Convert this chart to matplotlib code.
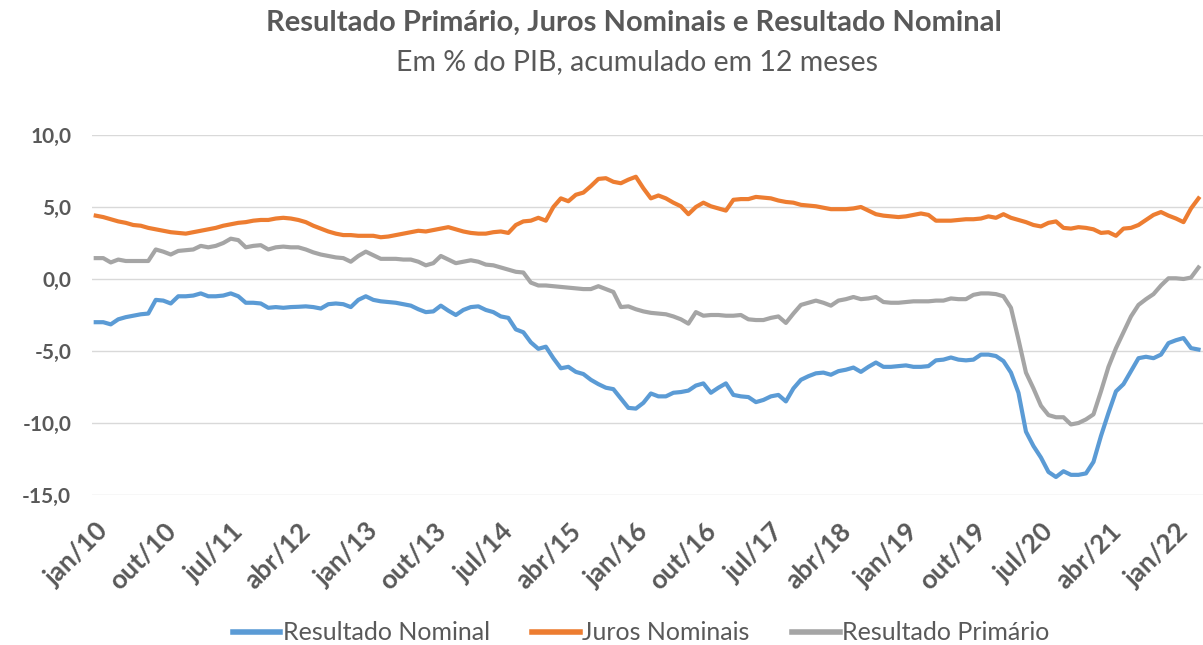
import numpy as np
import matplotlib
matplotlib.use("Agg")
import matplotlib.pyplot as plt

plt.rcParams['font.family'] = ['Lato', 'DejaVu Sans']

# meses: jan/10 ate abr/22 (148 pontos)
meses_pt = ['jan', 'fev', 'mar', 'abr', 'mai', 'jun', 'jul', 'ago', 'set', 'out', 'nov', 'dez']

# Resultado Nominal (% do PIB, acumulado 12 meses)
nominal = [
    -3.0, -3.0, -3.15, -2.8, -2.65, -2.55, -2.45, -2.4, -1.45, -1.5,
    -1.7, -1.2, -1.2, -1.15, -1.0, -1.2, -1.2, -1.15, -1.0, -1.2,
    -1.65, -1.65, -1.7, -2.0, -1.95, -2.0, -1.95, -1.93, -1.9, -1.95,
    -2.05, -1.75, -1.7, -1.75, -1.95, -1.45, -1.2, -1.45, -1.55, -1.6,
    -1.65, -1.75, -1.85, -2.1, -2.3, -2.25, -1.85, -2.2, -2.5, -2.15,
    -1.95, -1.9, -2.15, -2.3, -2.6, -2.7, -3.5, -3.7, -4.4, -4.85,
    -4.7, -5.5, -6.2, -6.1, -6.45, -6.6, -7.0, -7.3, -7.55, -7.65,
    -8.3, -8.95, -9.0, -8.6, -7.95, -8.15, -8.15, -7.9, -7.85, -7.75,
    -7.4, -7.25, -7.9, -7.55, -7.25, -8.05, -8.15, -8.2, -8.55, -8.4,
    -8.15, -8.05, -8.5, -7.6, -7.0, -6.75, -6.55, -6.5, -6.65, -6.4,
    -6.3, -6.15, -6.45, -6.1, -5.8, -6.1, -6.1, -6.05, -6.0, -6.1,
    -6.1, -6.05, -5.65, -5.6, -5.45, -5.6, -5.65, -5.6, -5.25, -5.25,
    -5.35, -5.7, -6.5, -7.9, -10.6, -11.6, -12.4, -13.4, -13.75, -13.35,
    -13.6, -13.6, -13.5, -12.7, -10.9, -9.3, -7.8, -7.3, -6.4, -5.5,
    -5.4, -5.5, -5.25, -4.45, -4.25, -4.1, -4.8, -4.9,
]

# Juros Nominais
juros = [
    4.4, 4.3, 4.15, 4.0, 3.9, 3.75, 3.7, 3.55, 3.45, 3.35,
    3.25, 3.2, 3.15, 3.25, 3.35, 3.45, 3.55, 3.7, 3.8, 3.9,
    3.95, 4.05, 4.1, 4.1, 4.2, 4.25, 4.2, 4.1, 3.95, 3.7,
    3.5, 3.3, 3.15, 3.05, 3.05, 3.0, 3.0, 3.0, 2.9, 2.95,
    3.05, 3.15, 3.25, 3.35, 3.3, 3.4, 3.5, 3.6, 3.45, 3.3,
    3.2, 3.15, 3.15, 3.25, 3.3, 3.2, 3.75, 4.0, 4.05, 4.25,
    4.05, 5.0, 5.6, 5.4, 5.85, 6.0, 6.45, 6.95, 7.0, 6.75,
    6.65, 6.9, 7.1, 6.3, 5.6, 5.8, 5.6, 5.3, 5.05, 4.5,
    5.0, 5.3, 5.05, 4.9, 4.75, 5.5, 5.55, 5.55, 5.7, 5.65,
    5.6, 5.45, 5.35, 5.3, 5.15, 5.1, 5.05, 4.95, 4.85, 4.85,
    4.85, 4.9, 5.0, 4.75, 4.5, 4.4, 4.35, 4.3, 4.35, 4.45,
    4.55, 4.45, 4.05, 4.05, 4.05, 4.1, 4.15, 4.15, 4.2, 4.35,
    4.25, 4.5, 4.25, 4.1, 3.95, 3.75, 3.65, 3.9, 4.0, 3.55,
    3.5, 3.6, 3.55, 3.45, 3.2, 3.25, 3.0, 3.5, 3.55, 3.75,
    4.1, 4.45, 4.65, 4.4, 4.2, 3.95, 4.9, 5.6,
]

# Resultado Primario
primario = [
    1.45, 1.45, 1.15, 1.35, 1.25, 1.25, 1.25, 1.25, 2.05, 1.9,
    1.7, 1.95, 2.0, 2.05, 2.3, 2.2, 2.3, 2.5, 2.8, 2.7,
    2.2, 2.3, 2.35, 2.05, 2.2, 2.25, 2.2, 2.2, 2.05, 1.85,
    1.7, 1.6, 1.5, 1.45, 1.2, 1.6, 1.9, 1.65, 1.4, 1.4,
    1.4, 1.35, 1.35, 1.2, 0.95, 1.1, 1.6, 1.35, 1.1, 1.2,
    1.3, 1.2, 1.0, 0.95, 0.8, 0.65, 0.5, 0.45, -0.25, -0.45,
    -0.45, -0.5, -0.55, -0.6, -0.65, -0.7, -0.7, -0.5, -0.7, -0.9,
    -1.95, -1.9, -2.1, -2.25, -2.35, -2.4, -2.45, -2.6, -2.8, -3.1,
    -2.3, -2.55, -2.5, -2.5, -2.55, -2.55, -2.5, -2.8, -2.85, -2.85,
    -2.7, -2.6, -3.05, -2.4, -1.8, -1.65, -1.5, -1.65, -1.85, -1.5,
    -1.4, -1.25, -1.4, -1.35, -1.25, -1.6, -1.65, -1.65, -1.6, -1.55,
    -1.55, -1.55, -1.5, -1.5, -1.35, -1.4, -1.4, -1.1, -1.0, -1.0,
    -1.05, -1.2, -2.0, -4.2, -6.5, -7.6, -8.8, -9.45, -9.6, -9.6,
    -10.1, -10.0, -9.75, -9.4, -7.8, -6.1, -4.8, -3.7, -2.6, -1.8,
    -1.4, -1.05, -0.45, 0.05, 0.05, 0.0, 0.1, 0.8,
]

n = len(nominal)
rotulos = [f"{meses_pt[i % 12]}/{10 + i // 12}" for i in range(n)]
x = np.arange(n)

cinza_txt = '#595959'

fig = plt.figure(figsize=(12.03, 6.45), dpi=100)
ax = fig.add_axes([92 / 1203, 150 / 645, 1 - 92 / 1203, 360 / 645])

ax.plot(x, nominal, color='#5B9BD5', lw=3.0, label='Resultado Nominal', solid_joinstyle='round')
ax.plot(x, juros, color='#ED7D31', lw=3.0, label='Juros Nominais', solid_joinstyle='round')
ax.plot(x, primario, color='#A5A5A5', lw=3.0, label='Resultado Primário', solid_joinstyle='round')

ax.set_ylim(-15, 10)
ax.set_xlim(-0.5, 147.6)
ax.set_yticks([10, 5, 0, -5, -10, -15])
ax.set_yticklabels(['10,0', '5,0', '0,0', '-5,0', '-10,0', '-15,0'],
                   fontsize=15, fontweight='bold', color=cinza_txt)
ax.grid(axis='y', color='#D9D9D9', lw=1)
ax.set_axisbelow(True)
for s in ax.spines.values():
    s.set_visible(False)
ax.tick_params(axis='y', length=0, pad=15)

ticks = x[::9]
ax.set_xticks(ticks)
ax.set_xticklabels([rotulos[i] for i in ticks], rotation=45, ha='right',
                   rotation_mode='anchor', fontsize=19, fontweight='bold', color=cinza_txt)
ax.tick_params(axis='x', length=0, pad=17)

fig.text(634 / 1203, 1 - 23 / 645, 'Resultado Primário, Juros Nominais e Resultado Nominal',
         ha='center', va='center', fontsize=21, fontweight='bold', color=cinza_txt)
fig.text(637 / 1203, 1 - 62 / 645, 'Em % do PIB, acumulado em 12 meses',
         ha='center', va='center', fontsize=20.5, color=cinza_txt)

leg = fig.legend(loc='center', bbox_to_anchor=(641 / 1203, 1 - 633 / 645), ncol=3, frameon=False,
                 fontsize=18, labelcolor=cinza_txt, handlelength=1.9, handletextpad=0.1,
                 columnspacing=1.7)
for h in leg.get_lines():
    h.set_linewidth(4)

fig.savefig('out.png', dpi=100)
